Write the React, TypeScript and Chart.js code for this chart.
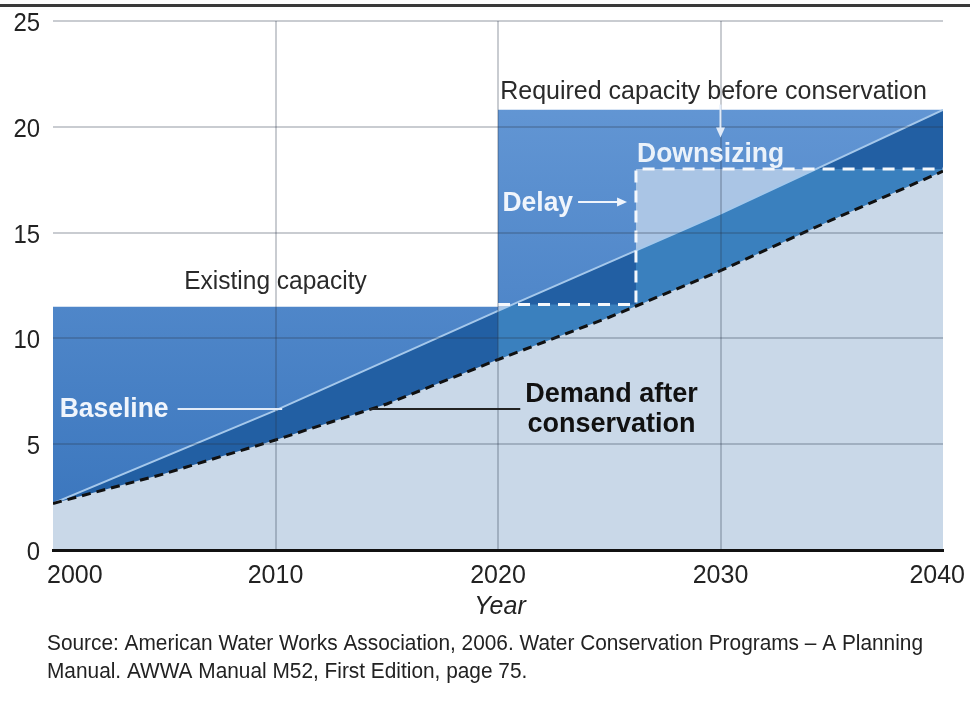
import React, { useEffect, useRef } from 'react';
import { Chart, registerables } from 'chart.js';

Chart.register(...registerables);

// ---------- data ----------
const X_TICKS = [2000, 2010, 2020, 2030, 2040];
const Y_TICKS = [0, 5, 10, 15, 20, 25];

// capacity: existing (to 2020) then required before conservation (2020-2040)
const CAPACITY_YEARS = [2000, 2020, 2040];
const CAPACITY = [11.5, 20.8, 20.8];

// baseline demand
const BASELINE_YEARS = [2000, 2010, 2020, 2030, 2040];
const BASELINE = [2.2, 6.6, 11.3, 15.9, 20.8];

// demand after conservation
const DEMAND_YEARS = [2000, 2005, 2010, 2015, 2020, 2025, 2030, 2035, 2040];
const DEMAND_AFTER = [2.2, 3.6, 5.2, 6.9, 9.0, 11.0, 13.2, 15.6, 17.9];

// delayed / downsized capacity
const DOWNSIZED_YEARS = [2020, 2026.2, 2040];
const DOWNSIZED = [11.6, 18.0, 18.0];

const X_TITLE = 'Year';
const SOURCE_LINES = [
  'Source: American Water Works Association, 2006. Water Conservation Programs \u2013 A Planning',
  'Manual. AWWA Manual M52, First Edition, page 75.',
];
const LBL_EXISTING = 'Existing capacity';
const LBL_REQUIRED = 'Required capacity before conservation';
const LBL_DOWNSIZING = 'Downsizing';
const LBL_DELAY = 'Delay';
const LBL_BASELINE = 'Baseline';
const LBL_DEMAND = ['Demand after', 'conservation'];

// ---------- styles ----------
const FONT = "'Liberation Sans', Arial, Helvetica, sans-serif";
const C_DARK = 'rgb(34,95,163)';
const C_MED = 'rgb(58,128,190)';
const C_BOX = 'rgb(170,197,229)';
const C_LIGHT = 'rgb(201,216,232)';
const GRID = 'rgba(40,50,70,0.25)';

const pts = (xs: number[], ys: number[]) => xs.map((x, i) => ({ x, y: ys[i] }));

function text(ctx: CanvasRenderingContext2D, s: string, x: number, y: number, font: string, color: string, align: CanvasTextAlign = 'left', sx = 1) {
  ctx.save();
  ctx.font = font;
  ctx.fillStyle = color;
  ctx.textAlign = align;
  ctx.textBaseline = 'alphabetic';
  ctx.translate(x, y);
  ctx.scale(sx, 1);
  ctx.fillText(s, 0, 0);
  ctx.restore();
}

function arrow(ctx: CanvasRenderingContext2D, x1: number, y1: number, x2: number, y2: number, color: string, w: number, head: number) {
  const a = Math.atan2(y2 - y1, x2 - x1);
  ctx.save();
  ctx.strokeStyle = color;
  ctx.fillStyle = color;
  ctx.lineWidth = w;
  ctx.beginPath();
  ctx.moveTo(x1, y1);
  ctx.lineTo(x2 - Math.cos(a) * head * 0.8, y2 - Math.sin(a) * head * 0.8);
  ctx.stroke();
  ctx.beginPath();
  ctx.moveTo(x2, y2);
  ctx.lineTo(x2 - Math.cos(a) * head - Math.sin(a) * head * 0.45, y2 - Math.sin(a) * head + Math.cos(a) * head * 0.45);
  ctx.lineTo(x2 - Math.cos(a) * head + Math.sin(a) * head * 0.45, y2 - Math.sin(a) * head - Math.cos(a) * head * 0.45);
  ctx.closePath();
  ctx.fill();
  ctx.restore();
}

const decorPlugin = {
  id: 'decor',
  afterDraw(chart: any) {
    const ctx: CanvasRenderingContext2D = chart.ctx;
    const xs = chart.scales.x;
    const ys = chart.scales.y;
    const X = (v: number) => xs.getPixelForValue(v);
    const Y = (v: number) => ys.getPixelForValue(v);
    const area = chart.chartArea;
    const W = chart.width;

    // top rule (cut-off title)
    ctx.save();
    ctx.fillStyle = '#3a3a3a';
    ctx.fillRect(0, 4, W, 3);
    ctx.restore();

    // y tick labels
    Y_TICKS.forEach((v) => {
      text(ctx, String(v), area.left - 13, Y(v) + 10, `26px ${FONT}`, '#222', 'right', 0.92);
    });
    // x tick labels
    ctx.save();
    ctx.font = `25px ${FONT}`;
    X_TICKS.forEach((v) => {
      const w = ctx.measureText(String(v)).width;
      let cx = X(v);
      cx = Math.max(cx, w / 2 + 47);
      cx = Math.min(cx, W - w / 2 - 5);
      text(ctx, String(v), cx, area.bottom + 33, `25px ${FONT}`, '#222', 'center');
    });
    ctx.restore();
    // axis title
    text(ctx, X_TITLE, X(2020) + 2, area.bottom + 64, `italic 25px ${FONT}`, '#222', 'center');

    // source
    ctx.save();
    ctx.font = `22px ${FONT}`;
    const sw = ctx.measureText(SOURCE_LINES[0]).width;
    ctx.restore();
    const ssx = Math.min(1, 876 / sw);
    text(ctx, SOURCE_LINES[0], 47, area.bottom + 100, `22px ${FONT}`, '#222', 'left', ssx);
    text(ctx, SOURCE_LINES[1], 47, area.bottom + 128, `22px ${FONT}`, '#222', 'left', ssx);

    // annotations
    text(ctx, LBL_EXISTING, X(2010), Y(12.33), `25px ${FONT}`, '#2a2a2a', 'center', 0.98);
    text(ctx, LBL_REQUIRED, X(2020.1), Y(21.31), `25px ${FONT}`, '#2a2a2a', 'left', 1.0);
    arrow(ctx, X(2030), Y(21.05), X(2030), Y(19.5), 'rgb(225,235,248)', 2, 10);

    text(ctx, LBL_DOWNSIZING, X(2026.25), Y(18.34), `bold 27px ${FONT}`, 'rgb(235,242,250)', 'left', 0.98);
    text(ctx, LBL_DELAY, X(2020.2), Y(16.0), `bold 27px ${FONT}`, 'rgb(240,245,252)', 'left', 0.98);
    arrow(ctx, X(2023.6), Y(16.45), X(2025.8), Y(16.45), 'rgb(240,245,252)', 2, 10);

    text(ctx, LBL_BASELINE, X(2000.3), Y(6.29), `bold 27px ${FONT}`, 'rgb(240,245,252)', 'left', 0.98);
    ctx.save();
    ctx.strokeStyle = 'rgb(225,235,248)';
    ctx.lineWidth = 2;
    ctx.beginPath();
    ctx.moveTo(X(2005.6), Y(6.66));
    ctx.lineTo(X(2010.3), Y(6.66));
    ctx.stroke();
    ctx.strokeStyle = '#222';
    ctx.beginPath();
    ctx.moveTo(X(2014.25), Y(6.66));
    ctx.lineTo(X(2021.0), Y(6.66));
    ctx.stroke();
    ctx.restore();

    text(ctx, LBL_DEMAND[0], X(2025.1), Y(6.99), `bold 27px ${FONT}`, '#111', 'center', 1.0);
    text(ctx, LBL_DEMAND[1], X(2025.1), Y(5.58), `bold 27px ${FONT}`, '#111', 'center', 1.0);
  },
};

export default function App() {
  const ref = useRef<HTMLCanvasElement | null>(null);

  useEffect(() => {
    document.body.style.margin = '0';
    const canvas = ref.current;
    if (!canvas) return;

    const capacityBg = (c: any) => {
      const ch = c.chart;
      const a = ch.chartArea;
      if (!a) return 'rgb(80,135,200)';
      const g = ch.ctx.createLinearGradient(0, a.top, 0, a.bottom);
      g.addColorStop(0, 'rgb(106,156,216)');
      g.addColorStop(1, 'rgb(56,116,188)');
      return g;
    };

    const base = { pointRadius: 0, pointHoverRadius: 0, borderWidth: 0, borderColor: 'rgba(0,0,0,0)' };

    const chart = new Chart(canvas, {
      type: 'line',
      data: {
        datasets: [
          // 0 capacity
          { ...base, label: 'Capacity', data: pts(CAPACITY_YEARS, CAPACITY), stepped: 'before', fill: 'origin', backgroundColor: capacityBg, order: 10 },
          // 1 baseline fill (dark)
          { ...base, label: 'Baseline fill', data: pts(BASELINE_YEARS, BASELINE), fill: 'origin', backgroundColor: C_DARK, order: 9 },
          // 2 demand -> downsized capacity (medium)
          { ...base, label: 'Demand to downsized', data: pts(DEMAND_YEARS, DEMAND_AFTER), fill: { target: 3 }, backgroundColor: C_MED, order: 8 },
          // 3 downsized capacity above baseline (light)
          { ...base, label: 'Downsized fill', data: pts(DOWNSIZED_YEARS, DOWNSIZED), stepped: 'before', fill: { target: 1, above: C_BOX, below: 'rgba(0,0,0,0)' }, backgroundColor: C_BOX, order: 7 },
          // 4 below demand after conservation
          { ...base, label: 'Demand fill', data: pts(DEMAND_YEARS, DEMAND_AFTER), fill: 'origin', backgroundColor: C_LIGHT, order: 6 },
          // 5 baseline line
          { ...base, label: 'Baseline', data: pts(BASELINE_YEARS, BASELINE), fill: false, borderWidth: 2, borderColor: 'rgb(165,200,235)', order: 3 },
          // 6 downsized line
          { ...base, label: 'Downsized', data: pts(DOWNSIZED_YEARS, DOWNSIZED), stepped: 'before', fill: false, borderWidth: 3, borderColor: 'rgb(245,248,252)', borderDash: [12, 8], order: 2 },
          // 7 demand after conservation line
          { ...base, label: 'Demand after conservation', data: pts(DEMAND_YEARS, DEMAND_AFTER), fill: false, borderWidth: 3, borderColor: '#111', borderDash: [9, 6], order: 1 },
        ],
      },
      options: {
        responsive: false,
        animation: false,
        devicePixelRatio: 1,
        layout: { padding: { left: 53, right: 27, top: 21, bottom: 155 } },
        plugins: { legend: { display: false }, tooltip: { enabled: false }, title: { display: false } },
        scales: {
          x: {
            type: 'linear',
            min: X_TICKS[0],
            max: X_TICKS[X_TICKS.length - 1],
            ticks: { display: false, stepSize: 10 },
            grid: {
              z: 1,
              drawTicks: false,
              lineWidth: 2,
              color: (c: any) => (c.tick && (c.tick.value === X_TICKS[0] || c.tick.value === X_TICKS[X_TICKS.length - 1]) ? 'rgba(0,0,0,0)' : GRID),
            },
            border: { display: true, color: '#111', width: 3, z: 2 },
            afterFit: (s: any) => { s.height = 0; },
          },
          y: {
            min: Y_TICKS[0],
            max: Y_TICKS[Y_TICKS.length - 1],
            ticks: { display: false, stepSize: 5 },
            grid: { z: 1, drawTicks: false, lineWidth: 2, color: GRID },
            border: { display: false },
            afterFit: (s: any) => { s.width = 0; },
          },
        },
      },
      plugins: [decorPlugin],
    });

    return () => chart.destroy();
  }, []);

  return (
    <div style={{ width: 970, height: 705, background: '#fff' }}>
      <canvas ref={ref} width={970} height={705} style={{ display: 'block' }} />
    </div>
  );
}
